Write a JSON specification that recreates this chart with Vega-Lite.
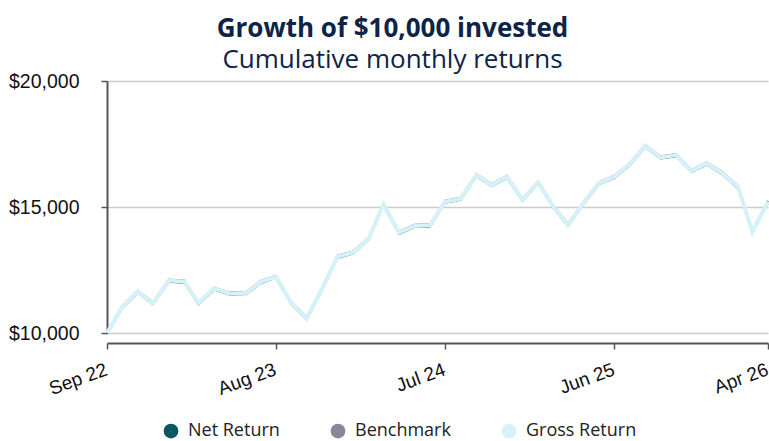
{
  "$schema": "https://vega.github.io/schema/vega-lite/v6.json",
  "width": 661,
  "height": 252,
  "autosize": "none",
  "padding": {"left": 107, "top": 81, "right": 1, "bottom": 108},
  "title": {
    "text": "Growth of $10,000 invested",
    "subtitle": "Cumulative monthly returns",
    "anchor": "middle",
    "dx": -45,
    "font": "Open Sans",
    "fontSize": 26,
    "fontWeight": "bold",
    "color": "#0d2448",
    "subtitleFont": "Open Sans",
    "subtitleFontSize": 26,
    "subtitleColor": "#0d2448",
    "subtitlePadding": 5,
    "offset": -2
  },
  "data": {
    "values": [
      {"date": "2022-09-01", "Net Return": 9960, "Benchmark": 10040, "Gross Return": 10000},
      {"date": "2022-10-01", "Net Return": 10980, "Benchmark": 11060, "Gross Return": 11020},
      {"date": "2022-11-01", "Net Return": 11600, "Benchmark": 11680, "Gross Return": 11640},
      {"date": "2022-12-01", "Net Return": 11140, "Benchmark": 11220, "Gross Return": 11180},
      {"date": "2023-01-01", "Net Return": 12040, "Benchmark": 12120, "Gross Return": 12080},
      {"date": "2023-02-01", "Net Return": 12000, "Benchmark": 12080, "Gross Return": 12040},
      {"date": "2023-03-01", "Net Return": 11140, "Benchmark": 11220, "Gross Return": 11180},
      {"date": "2023-04-01", "Net Return": 11730, "Benchmark": 11810, "Gross Return": 11770},
      {"date": "2023-05-01", "Net Return": 11530, "Benchmark": 11610, "Gross Return": 11570},
      {"date": "2023-06-01", "Net Return": 11510, "Benchmark": 11590, "Gross Return": 11550},
      {"date": "2023-07-01", "Net Return": 11970, "Benchmark": 12050, "Gross Return": 12010},
      {"date": "2023-08-01", "Net Return": 12190, "Benchmark": 12270, "Gross Return": 12230},
      {"date": "2023-09-01", "Net Return": 11140, "Benchmark": 11220, "Gross Return": 11180},
      {"date": "2023-10-01", "Net Return": 10540, "Benchmark": 10620, "Gross Return": 10580},
      {"date": "2023-11-01", "Net Return": 11730, "Benchmark": 11810, "Gross Return": 11770},
      {"date": "2023-12-01", "Net Return": 12990, "Benchmark": 13070, "Gross Return": 13030},
      {"date": "2024-01-01", "Net Return": 13150, "Benchmark": 13230, "Gross Return": 13190},
      {"date": "2024-02-01", "Net Return": 13720, "Benchmark": 13800, "Gross Return": 13760},
      {"date": "2024-03-01", "Net Return": 15070, "Benchmark": 15150, "Gross Return": 15110},
      {"date": "2024-04-01", "Net Return": 13940, "Benchmark": 14020, "Gross Return": 13980},
      {"date": "2024-05-01", "Net Return": 14210, "Benchmark": 14290, "Gross Return": 14250},
      {"date": "2024-06-01", "Net Return": 14230, "Benchmark": 14310, "Gross Return": 14270},
      {"date": "2024-07-01", "Net Return": 15170, "Benchmark": 15250, "Gross Return": 15210},
      {"date": "2024-08-01", "Net Return": 15290, "Benchmark": 15370, "Gross Return": 15330},
      {"date": "2024-09-01", "Net Return": 16230, "Benchmark": 16310, "Gross Return": 16270},
      {"date": "2024-10-01", "Net Return": 15820, "Benchmark": 15900, "Gross Return": 15860},
      {"date": "2024-11-01", "Net Return": 16160, "Benchmark": 16240, "Gross Return": 16200},
      {"date": "2024-12-01", "Net Return": 15240, "Benchmark": 15320, "Gross Return": 15280},
      {"date": "2025-01-01", "Net Return": 15940, "Benchmark": 16020, "Gross Return": 15980},
      {"date": "2025-02-01", "Net Return": 14970, "Benchmark": 15050, "Gross Return": 15010},
      {"date": "2025-03-01", "Net Return": 14250, "Benchmark": 14330, "Gross Return": 14290},
      {"date": "2025-04-01", "Net Return": 15110, "Benchmark": 15190, "Gross Return": 15150},
      {"date": "2025-05-01", "Net Return": 15900, "Benchmark": 15980, "Gross Return": 15940},
      {"date": "2025-06-01", "Net Return": 16160, "Benchmark": 16240, "Gross Return": 16200},
      {"date": "2025-07-01", "Net Return": 16650, "Benchmark": 16730, "Gross Return": 16690},
      {"date": "2025-08-01", "Net Return": 17380, "Benchmark": 17460, "Gross Return": 17420},
      {"date": "2025-09-01", "Net Return": 16930, "Benchmark": 17010, "Gross Return": 16970},
      {"date": "2025-10-01", "Net Return": 17020, "Benchmark": 17100, "Gross Return": 17060},
      {"date": "2025-11-01", "Net Return": 16390, "Benchmark": 16470, "Gross Return": 16430},
      {"date": "2025-12-01", "Net Return": 16690, "Benchmark": 16770, "Gross Return": 16730},
      {"date": "2026-01-01", "Net Return": 16300, "Benchmark": 16380, "Gross Return": 16340},
      {"date": "2026-02-01", "Net Return": 15740, "Benchmark": 15820, "Gross Return": 15780},
      {"date": "2026-03-01", "Net Return": 13980, "Benchmark": 14060, "Gross Return": 14020},
      {"date": "2026-04-01", "Net Return": 15170, "Benchmark": 15250, "Gross Return": 15210}
    ]
  },
  "transform": [
    {"fold": ["Net Return", "Benchmark", "Gross Return"], "as": ["series", "value"]}
  ],
  "encoding": {
    "x": {
      "field": "date",
      "type": "temporal",
      "timeUnit": "utcyearmonth",
      "title": null,
      "scale": {
        "type": "utc",
        "nice": false,
        "domain": [
          {"year": 2022, "month": 9, "date": 1, "utc": true},
          {"year": 2026, "month": 4, "date": 1, "utc": true}
        ]
      },
      "axis": {
        "values": [
          {"year": 2022, "month": 9, "date": 1, "utc": true},
          {"year": 2023, "month": 8, "date": 1, "utc": true},
          {"year": 2024, "month": 7, "date": 1, "utc": true},
          {"year": 2025, "month": 6, "date": 1, "utc": true},
          {"year": 2026, "month": 4, "date": 1, "utc": true}
        ],
        "labelExpr": "utcFormat(datum.value, '%b %y')",
        "labelAngle": -20,
        "labelFont": "Liberation Sans",
        "labelFontSize": 19,
        "labelColor": "#111111",
        "labelPadding": 11,
        "labelOffset": -4,
        "labelOverlap": false,
        "labelFlush": false,
        "offset": 10,
        "grid": false,
        "domainColor": "#555555",
        "domainWidth": 2,
        "tickColor": "#555555",
        "tickSize": 6,
        "tickWidth": 1.5
      }
    },
    "y": {
      "field": "value",
      "type": "quantitative",
      "title": null,
      "scale": {"domain": [10000, 20000], "nice": false, "zero": false},
      "axis": {
        "values": [10000, 15000, 20000],
        "format": "$,.0f",
        "labelFont": "Liberation Sans",
        "labelFontSize": 19.5,
        "labelColor": "#111111",
        "labelPadding": 22,
        "grid": true,
        "gridColor": "#cccccc",
        "gridWidth": 1.5,
        "domainColor": "#555555",
        "domainWidth": 2,
        "tickColor": "#555555",
        "tickSize": 6,
        "tickWidth": 1.5
      }
    },
    "color": {
      "field": "series",
      "type": "nominal",
      "sort": ["Net Return", "Benchmark", "Gross Return"],
      "scale": {
        "domain": ["Net Return", "Benchmark", "Gross Return"],
        "range": ["#0a5761", "#8c8499", "#d5f2f8"]
      },
      "legend": {
        "orient": "none",
        "legendX": 55,
        "legendY": 341,
        "direction": "horizontal",
        "title": null,
        "symbolType": "circle",
        "symbolSize": 60,
        "symbolStrokeWidth": 7,
        "symbolOpacity": 1,
        "labelFont": "Open Sans",
        "labelFontSize": 18,
        "labelColor": "#222222",
        "labelOffset": 8,
        "columnPadding": 40
      }
    }
  },
  "layer": [
    {
      "transform": [{"filter": "datum.series !== 'Gross Return'"}],
      "mark": {"type": "line", "strokeWidth": 2.2}
    },
    {
      "transform": [{"filter": "datum.series === 'Gross Return'"}],
      "mark": {"type": "line", "strokeWidth": 4}
    }
  ],
  "config": {
    "view": {"stroke": null}
  }
}
